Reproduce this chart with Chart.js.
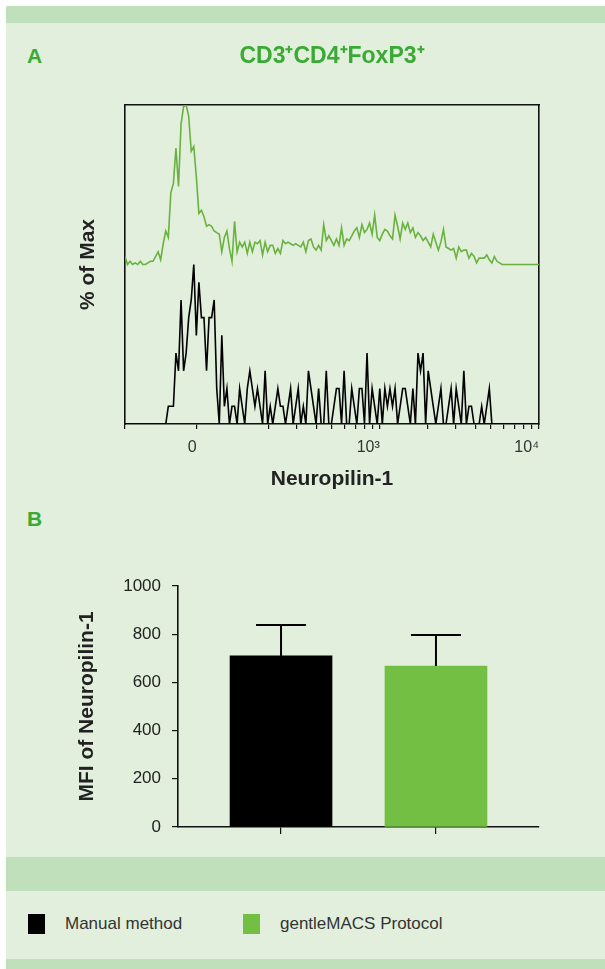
<!DOCTYPE html>
<html>
<head>
<meta charset="utf-8">
<script src="https://cdn.jsdelivr.net/npm/chart.js@4.4.1/dist/chart.umd.min.js"></script>
<style>
  html, body { margin: 0; padding: 0; background: #fff; }
  body { width: 605px; height: 969px; position: relative; overflow: hidden; font-family: 'Liberation Sans', Arial, sans-serif; }
  .light { position: absolute; left: 6px; right: 0; background: #e1efdc; }
  .band { position: absolute; left: 6px; right: 0; background: #c0dfbb; }
  .panelLabel { position: absolute; color: #3aaa35; font-weight: bold; font-size: 21px; line-height: 24px; }
  canvas { position: absolute; left: 0; }
  #legend { position: absolute; left: 28px; top: 914px; height: 20px; }
  .item { position: absolute; top: 0; white-space: nowrap; font-size: 17px; line-height: 20px; color: #333; }
  .swatch { position: absolute; left: 0; top: 0; width: 17px; height: 20px; }
  .item span.text { position: absolute; left: 37px; top: 0; }
</style>
</head>
<body>
<div class="band" style="top:6px;height:17px"></div>
<div class="light" style="top:23px;height:834px"></div>
<div class="band" style="top:857px;height:34px"></div>
<div class="light" style="top:891px;height:68px"></div>
<div class="band" style="top:959px;height:10px"></div>

<div class="panelLabel" style="left:27px;top:44px">A</div>
<div class="panelLabel" style="left:27px;top:507px">B</div>

<canvas id="hist" width="605" height="477" style="top:23px"></canvas>
<canvas id="bars" width="605" height="357" style="top:500px"></canvas>
<div id="legend"></div>

<script>
// ---- panel A: Neuropilin-1 histograms (offset overlay) ----
// bins are equally spaced in display units (decades on the biexponential axis)
const HIST_START = 1.40;
const HIST_STEP = 0.016;
const X_MIN = 1.40;
const X_MAX = 4.0;
const ZERO_POS = 1.85;      // where 0 sits on the biex axis
const GREEN_OFFSET = 100;   // gentleMACS trace is stacked above the manual one

// gentleMACS Protocol, % of max
const GREEN_PCT = [
  5, 0, 2, 0, 1, 0, 2, 0, 0, 1,
  2, 2, 5, 8, 3, 13, 21, 17, 45, 51,
  73, 49, 88, 99, 100, 93, 71, 74, 55, 32,
  34, 30, 24, 25, 24, 21, 20, 19, 8, 17,
  21, 10, 2, 27, 8, 14, 11, 14, 7, 14,
  8, 14, 13, 15, 6, 14, 8, 12, 12, 7,
  10, 7, 15, 13, 14, 13, 12, 13, 12, 11,
  14, 8, 15, 16, 11, 9, 12, 9, 25, 15,
  18, 15, 12, 16, 12, 23, 12, 16, 15, 18,
  21, 23, 17, 25, 20, 22, 26, 19, 31, 17,
  15, 19, 22, 21, 18, 16, 31, 24, 16, 26,
  22, 26, 20, 23, 17, 20, 18, 15, 17, 14,
  11, 19, 14, 9, 14, 22, 11, 10, 9, 10,
  4, 11, 8, 9, 9, 4, 7, 5, 1, 4,
  4, 4, 6, 3, 1, 5, 2, 1, 0, 0,
  0, 0, 0, 0, 0, 0, 0, 0, 0, 0,
  0, 0, 0, 0
];

// Manual method, events per bin
const BLACK_COUNTS = [
  0, 0, 0, 0, 0, 0, 0, 0, 0, 0,
  0, 0, 0, 0, 0, 0, 0, 1, 1, 1,
  4, 3, 7, 3, 4, 6, 7, 9, 5, 8,
  6, 6, 3, 6, 6, 7, 2, 0, 5, 1,
  2, 0, 1, 1, 0, 2, 1, 0, 2, 3,
  2, 1, 2, 1, 0, 3, 0, 1, 0, 1,
  2, 1, 1, 0, 1, 2, 0, 1, 2, 0,
  1, 0, 3, 2, 1, 0, 2, 0, 0, 3,
  0, 0, 1, 2, 2, 0, 3, 0, 0, 2,
  1, 0, 2, 2, 0, 4, 0, 2, 1, 0,
  2, 0, 2, 1, 2, 1, 2, 0, 1, 2,
  2, 1, 0, 2, 0, 4, 3, 4, 0, 3,
  2, 1, 0, 1, 2, 0, 0, 1, 2, 0,
  2, 1, 0, 3, 0, 1, 1, 0, 0, 0,
  1, 0, 1, 2, 0, 0, 0, 0, 0, 0,
  0, 0, 0, 0, 0, 0, 0, 0, 0, 0,
  0, 0, 0, 0
];

const TICK_VALUES = [0, 200, 300, 400, 500, 600, 700, 800, 900,
  1000, 2000, 3000, 4000, 5000, 6000, 7000, 8000, 9000, 10000];
const TICK_LABELS = { 0: '0', 1000: '10³', 10000: '10⁴' };

// ---- panel B: MFI bars ----
const BAR_LABELS = ['Manual method', 'gentleMACS Protocol'];
const BAR_MEANS = [710, 668];
const BAR_ERRORS = [128, 129];
const BAR_COLORS = ['#000000', '#72bf44'];

const FONT = "'Liberation Sans', Arial, sans-serif";
Chart.defaults.font.family = FONT;
Chart.defaults.color = '#222';

const TITLE_FONT = { size: 23, weight: 'bold', lineHeight: 1.2 };
const TITLE_PAD = { top: 20, bottom: 10 };
const AXIS_TITLE_FONT = { size: 21, weight: 'bold', lineHeight: 1.2 };

function axisPos(v) {
  return v <= 0 ? ZERO_POS : Math.log10(v);
}

const maxCount = Math.max(...BLACK_COUNTS);
const greenPoints = GREEN_PCT.map((v, i) => ({ x: HIST_START + i * HIST_STEP, y: GREEN_OFFSET + v }));
const blackPoints = BLACK_COUNTS.map((c, i) => ({ x: HIST_START + i * HIST_STEP, y: c / maxCount * 100 }));

const histTicks = [X_MIN].concat(TICK_VALUES.map(axisPos));
const labelAt = {};
Object.keys(TICK_LABELS).forEach(k => { labelAt[axisPos(+k).toFixed(4)] = TICK_LABELS[k]; });

new Chart(document.getElementById('hist').getContext('2d'), {
  type: 'line',
  data: {
    datasets: [
      { label: 'gentleMACS Protocol', data: greenPoints, borderColor: '#6ab23f', borderWidth: 1.6 },
      { label: 'Manual method', data: blackPoints, borderColor: '#000', borderWidth: 1.6 }
    ]
  },
  options: {
    responsive: false,
    animation: false,
    devicePixelRatio: 1,
    elements: { point: { radius: 0 }, line: { tension: 0 } },
    layout: { padding: 0 },
    plugins: {
      legend: { display: false },
      tooltip: { enabled: false },
      title: {
        display: true,
        fullSize: false,
        text: 'CD3⁺CD4⁺FoxP3⁺',
        color: '#3aaa35',
        font: TITLE_FONT,
        padding: TITLE_PAD
      }
    },
    scales: {
      x: {
        type: 'linear',
        min: X_MIN,
        max: X_MAX,
        afterBuildTicks: s => { s.ticks = histTicks.map(v => ({ value: v })); },
        afterFit: s => { s.height = 76; },
        ticks: {
          autoSkip: false,
          maxRotation: 0,
          align: 'end',
          padding: 9,
          color: '#333',
          font: { size: 16 },
          callback: v => labelAt[(+v).toFixed(4)] || ''
        },
        grid: { drawOnChartArea: false, tickLength: 5, color: '#111', lineWidth: 1.2 },
        border: { color: '#111', width: 1.6 },
        title: {
          display: true,
          text: 'Neuropilin-1',
          color: '#222',
          font: AXIS_TITLE_FONT,
          padding: { bottom: 8 }
        }
      },
      xTop: {
        type: 'linear', position: 'top', min: 0, max: 1,
        afterFit: s => { s.height = 82 - (TITLE_PAD.top + TITLE_PAD.bottom + TITLE_FONT.size * TITLE_FONT.lineHeight); },
        ticks: { display: false },
        grid: { display: false },
        border: { color: '#111', width: 1.6 }
      },
      y: {
        min: 0,
        max: 200,
        afterFit: s => { s.width = 125; },
        ticks: { display: false },
        grid: { display: false },
        border: { color: '#111', width: 1.6 },
        title: {
          display: true,
          text: '% of Max',
          color: '#222',
          font: AXIS_TITLE_FONT,
          padding: { top: 76 }
        }
      },
      yRight: {
        position: 'right', min: 0, max: 1,
        afterFit: s => { s.width = 66; },
        ticks: { display: false },
        grid: { display: false },
        border: { color: '#111', width: 1.6 }
      }
    }
  }
});

// error bars drawn on top of the bars, upward only
const errorBars = {
  id: 'errorBars',
  afterDatasetsDraw(chart) {
    const { ctx, scales: { y } } = chart;
    const meta = chart.getDatasetMeta(0);
    ctx.save();
    ctx.strokeStyle = '#000';
    ctx.lineWidth = 2;
    meta.data.forEach((bar, i) => {
      const top = y.getPixelForValue(BAR_MEANS[i] + BAR_ERRORS[i]);
      ctx.beginPath();
      ctx.moveTo(bar.x, bar.y);
      ctx.lineTo(bar.x, top);
      ctx.moveTo(bar.x - 25, top);
      ctx.lineTo(bar.x + 25, top);
      ctx.stroke();
    });
    ctx.restore();
  }
};

new Chart(document.getElementById('bars').getContext('2d'), {
  type: 'bar',
  data: {
    datasets: [{
      data: BAR_MEANS.map((v, i) => ({ x: i, y: v })),
      backgroundColor: BAR_COLORS,
      barThickness: 102
    }]
  },
  options: {
    responsive: false,
    animation: false,
    devicePixelRatio: 1,
    layout: { padding: { top: 86, right: 66 } },
    plugins: { legend: { display: false }, tooltip: { enabled: false } },
    scales: {
      x: {
        type: 'linear',
        offset: false,
        min: -0.665,
        max: 1.665,
        afterBuildTicks: s => { s.ticks = BAR_MEANS.map((v, i) => ({ value: i })); },
        afterFit: s => { s.height = 30; },
        ticks: { callback: () => '' },
        grid: { offset: false, drawOnChartArea: false, tickLength: 7, color: '#111', lineWidth: 1.2 },
        border: { color: '#111', width: 1.6 }
      },
      y: {
        min: 0,
        max: 1000,
        afterFit: s => { s.width = 178; },
        ticks: { stepSize: 200, padding: 11, color: '#222', font: { size: 17 }, callback: v => String(v) },
        grid: { drawOnChartArea: false, tickLength: 6, color: '#111', lineWidth: 1.2 },
        border: { color: '#111', width: 1.6 },
        title: {
          display: true,
          text: 'MFI of Neuropilin-1',
          color: '#222',
          font: AXIS_TITLE_FONT,
          padding: { top: 75 }
        }
      }
    }
  },
  plugins: [errorBars]
});

// legend row in the bottom band
const legend = document.getElementById('legend');
const itemLeft = [0, 215];
BAR_LABELS.forEach((label, i) => {
  const item = document.createElement('div');
  item.className = 'item';
  item.style.left = itemLeft[i] + 'px';
  const sw = document.createElement('div');
  sw.className = 'swatch';
  sw.style.background = BAR_COLORS[i];
  const tx = document.createElement('span');
  tx.className = 'text';
  tx.textContent = label;
  item.appendChild(sw);
  item.appendChild(tx);
  legend.appendChild(item);
});
</script>
</body>
</html>
